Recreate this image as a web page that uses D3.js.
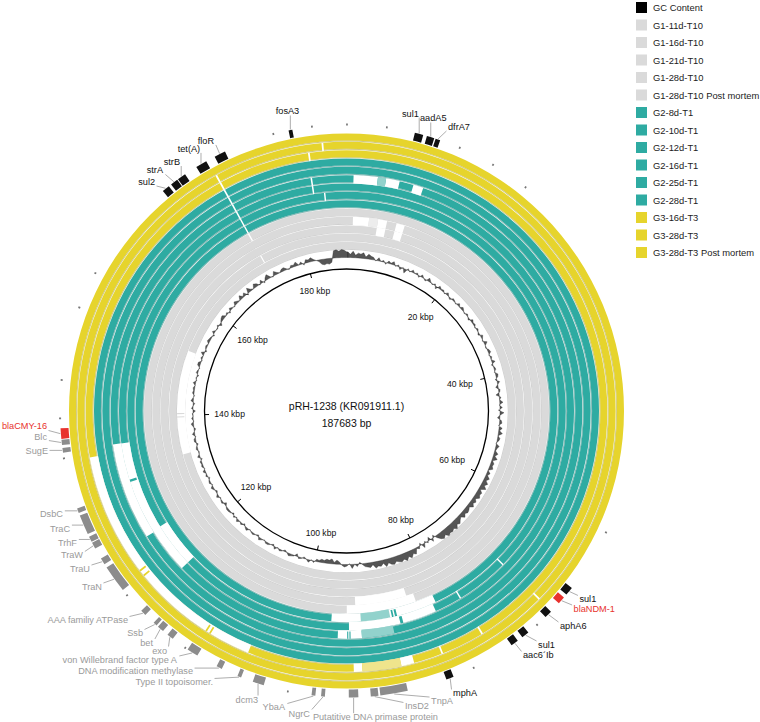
<!DOCTYPE html>
<html><head><meta charset="utf-8">
<script src="https://cdn.jsdelivr.net/npm/d3@7"></script>
<style>
body{margin:0;background:#fff;}
svg{display:block;font-family:"Liberation Sans",Arial,sans-serif;}
</style></head><body>
<svg id="c" width="760" height="722"></svg>
<script>
// ---------------- DATA ----------------
const GENOME_LENGTH_KBP = 187.683;
const plasmidName = "pRH-1238 (KR091911.1)";
const plasmidSize = "187683 bp";
const legendNames = ["GC Content","G1-11d-T10","G1-16d-T10","G1-21d-T10","G1-28d-T10","G1-28d-T10 Post mortem",
  "G2-8d-T1","G2-10d-T1","G2-12d-T1","G2-16d-T1","G2-25d-T1","G2-28d-T1","G3-16d-T3","G3-28d-T3","G3-28d-T3 Post mortem"];
const legendGroup = ["gc","g1","g1","g1","g1","g1","g2","g2","g2","g2","g2","g2","g3","g3","g3"];
const tickKbp = [20,40,60,80,100,120,140,160,180];

// gaps per sample ring: [startKbp, endKbp, kind] kind: w = no hit, l = partial hit, c = hit fragment inside a gap
const gapsG1_11d = [[133.0,151.6,'w'],[139.6,139.8,'c'],[140.2,140.4,'c']];
const gapsG1_16d = [[172.5,172.7,'w']];
const gapsG1_21d = [[4.9,6.3,'w'],[7.8,9.1,'w']];
const gapsG1_28d = [[1.0,3.5,'w'],[3.5,4.9,'l'],[4.9,6.3,'w'],[7.8,9.1,'w'],[84.5,92.5,'w']];
const gapsG1_28dPM = [[172.5,172.7,'w'],[83.4,93.8,'w']];
const gapsG2_8d = [[172.5,172.7,'w'],[80.8,96.0,'w'],[87.6,91.8,'l'],[86.6,86.9,'c'],[87.1,87.35,'c']];
const gapsG2_10d = [[172.5,172.7,'w'],[184.6,184.8,'w'],[77.4,77.6,'w'],[70.0,70.2,'w'],[81.3,93.5,'w'],[86.0,86.4,'c'],[118.0,124.2,'w']];
const gapsG2_12d = [[172.5,172.7,'w'],[183.1,183.3,'w'],[118.0,136.5,'w'],[131.3,131.6,'c'],[87.5,91.8,'l'],[91.8,95.0,'w'],[93.3,93.45,'c'],[93.6,93.75,'c']];
const gapsG2_16d = [[0.9,4.0,'w'],[4.0,5.05,'l'],[5.05,6.8,'w'],[8.6,9.9,'w'],[172.5,172.7,'w'],[183.1,183.3,'w'],[124.0,136.5,'w']];
const gapsG2_25d = [[172.5,172.7,'w']];
const gapsG2_28d = [[172.5,172.7,'w']];
const gapsG3_16d = [[183.25,183.45,'w'],[172.5,172.7,'w'],[105.4,135.4,'w'],[110.2,110.4,'c'],[110.7,110.9,'c'],[120.3,120.5,'c'],[121.0,121.2,'c'],
  [92.0,93.0,'w'],[87.5,92.0,'l'],[86.0,87.5,'w'],[77.4,77.6,'w'],[82.5,82.7,'w']];
const gapsG3_28d = [[184.9,185.1,'w'],[172.5,172.7,'w'],[69.9,70.1,'w']];
const gapsG3_28dPM = [];

// GC content deviation, one window per 0.5 kbp
const gcDeviation = [
  7,4,8,3,6,5,7,2,6,4, 3,-1,4,0,2,-2,3,1,4,-1, 2,-3,1,-5,2,-1,3,0,2,-2, 3,0,-2,4,1,-1,2,-3,3,1,
  2,-1,3,0,-2,2,1,-1,3,0, 3,1,-1,2,0,-2,3,1,2,-1, 2,0,-2,3,1,-1,4,0,-1,2, 3,-1,2,0,4,-2,1,2,-1,3,
  2,-2,3,0,-3,2,1,-4,2,0, 4,-1,3,-2,5,0,-3,2,3,-1, 4,1,5,0,3,2,-1,4,2,1, 5,2,6,1,4,3,5,0,4,2,
  6,3,7,4,8,2,6,5,7,3, 6,4,7,3,5,6,4,7,3,5, 8,6,10,7,9,8,10,6,9,7, 3,-3,4,-4,2,-2,5,-3,3,1,
  7,5,9,6,10,7,9,8,6,9, 8,5,9,4,7,6,8,3,6,5, 4,1,-2,3,0,5,-1,2,3,1, -3,-5,-2,-6,-4,-5,-3,-4,-2,-3,
  2,-1,3,0,-2,1,2,-3,1,2, 3,0,-2,1,2,-1,3,-2,0,2, 2,-1,1,3,-2,0,2,1,-1,3, 1,-2,2,0,3,-1,2,-2,1,2,
  2,0,-3,2,1,-1,3,0,-2,1, 3,-1,2,1,-2,2,0,3,-1,2, 1,2,-2,3,0,-1,2,1,-2,2, 2,-1,3,0,-2,1,3,-1,2,0,
  1,-3,2,0,-2,3,1,-1,2,1, 2,0,3,-1,1,-2,2,1,-1,3, 3,-1,2,0,4,-2,1,2,0,3, 2,1,-2,3,0,-1,2,-3,1,3,
  4,0,2,-2,3,1,-1,4,2,0, 5,1,4,-2,6,2,0,5,3,-1, 4,-2,3,6,1,-1,5,2,0,3, 4,1,-1,3,2,5,0,3,-2,4,
  3,5,2,0,-2,-6,-7,-6,-7,-5, 9,10,8,10,9,7];

// annotated genes
const geneNames = ["fosA3","floR","tet(A)","strB","strA","sul2","sul1","aadA5","dfrA7",
  "sul1","blaNDM-1","aphA6","sul1","aac6´Ib","mphA",
  "blaCMY-16","Blc","SugE","DsbC","TraC","TrhF","TraW","TraU","TraN","AAA familiy ATPase","Ssb","bet","exo",
  "von Willebrand factor type A","DNA modification methylase","Type II topoisomer.","dcm3","YbaA","NgrC",
  "Putatitive DNA primase protein","InsD2","TnpA"];
const geneStart = [181.6,173.4,171.2,168.9,168.0,166.9,7.2,8.5,9.45, 66.8,68.1,70.1,73.3,74.7,82.4,
  137.85,137.2,136.4,129.9,127.5,126.6,125.8,123.9,120.6,117.1,115.5,114.6,113.3,110.2,107.3,105.1,102.6,97.1,96.1,92.6,90.5,87.4];
const geneEnd = [182.0,174.6,172.4,169.8,168.8,167.7,8.1,9.3,9.95, 67.7,68.9,70.9,74.1,75.5,83.2,
  138.95,137.75,136.9,130.4,129.6,127.2,126.5,124.6,123.5,117.7,115.9,115.3,114.0,111.4,107.9,105.5,103.8,97.5,96.5,93.6,91.3,90.3];
const geneType = ["res","res","res","res","res","res","res","res","res","res","red","res","res","res","res",
  "red","other","other","other","other","other","other","other","other","other","other","other","other",
  "other","other","other","other","other","other","other","other","other"];
const minorFeatureKbp = [179.97,184.07,0.05,4.22,12.14,16.04,20.16,60.0,72.1,80.1,140.0,135.8,119.9,111.7,100.0,155.76,151.8,144.0];

// label layout: polar anchor (kbp, radius) and text anchor
const labelKbp = [181.87,174.06,172.47,170.08,168.22,166.88,5.51,7.35,10.25, 67.24,68.34,70.49,73.35,75.16,83.07,
  139.22,138.22,136.83,130.40,128.71,127.16,125.78,124.27,122.13,117.93,115.97,114.61,113.05,111.70,109.77,107.49,102.73,99.95,97.43,97.11,88.01,85.37];
const labelR = [305.3,300.8,300.2,299.5,302.5,298.5,302.6,301.6,301.6, 299.6,301.3,303,302.4,301.5,301.9,
  299.9,300.6,301.1,301.5,300.6,300.1,300.5,301.3,301.3,302.7,301.5,302.1,299.3,301.2,301.9,302.5,301.8,302.8,304.7,308.0,301.2,302.1];
const labelAnchor = ["middle","end","end","end","end","end","start","start","start","start","start","start","start","start","start",
  "end","end","end","end","end","end","end","end","end","end","end","end","end","end","end","end","end","end","end","start","start","start"];

// ---------------- DRAW ----------------
const svg = d3.select("#c");
const cx = 346.5, cy = 411;
const g = svg.append("g").attr("transform", `translate(${cx},${cy})`);
const ang = d3.scaleLinear().domain([0, GENOME_LENGTH_KBP]).range([0, 2*Math.PI]);
const colors = {g1:"#dadada", g2:"#2eaba2", g3:"#e6d42c", gc:"#000"};
const light = {g1:"#ededed", g2:"#92d2cc", g3:"#efe48c"};
const edge = {g1:"#a9a9a9", g2:"#1c7c75", g3:"#a99b1c"};
const R_OUT = 277.5, PITCH = 8.33, BAND = 7;
const sampleGaps = [gapsG1_11d,gapsG1_16d,gapsG1_21d,gapsG1_28d,gapsG1_28dPM,gapsG2_8d,gapsG2_10d,gapsG2_12d,gapsG2_16d,gapsG2_25d,gapsG2_28d,gapsG3_16d,gapsG3_28d,gapsG3_28dPM];
const arc = d3.arc();
sampleGaps.forEach((gaps, k) => {
  const grp = legendGroup[k+1];
  const rOut = R_OUT - PITCH*(13-k), rIn = rOut - BAND;
  g.append("path").attr("d", arc({innerRadius:rIn, outerRadius:rOut, startAngle:0, endAngle:2*Math.PI})).attr("fill", colors[grp]);
  g.append("path").attr("d", arc({innerRadius:rIn-0.9, outerRadius:rIn, startAngle:0, endAngle:2*Math.PI})).attr("fill", edge[grp]).attr("opacity",0.55);
  const order = {w:0,l:1,c:2};
  gaps.slice().sort((a,b)=>order[a[2]]-order[b[2]]).forEach(([s,e,kind]) => {
    const fill = kind==='w' ? "#fff" : kind==='l' ? light[grp] : colors[grp];
    const ri = kind==='c' ? rIn : rIn-1.2;
    g.append("path").attr("d", arc({innerRadius:ri, outerRadius:rOut+0.2, startAngle:ang(s), endAngle:ang(e)})).attr("fill", fill);
  });
});

// GC content
const gcR = d3.scaleLinear().domain([-10,10]).range([145.5,161.5]);
const gcData = gcDeviation.map((v,i)=>({pos:i*0.5+0.25, v}));
gcData.push({pos: GENOME_LENGTH_KBP+0.25, v: gcDeviation[0]});
const gcArea = d3.areaRadial().angle(d=>ang(d.pos)).innerRadius(gcR(0)).outerRadius(d=>gcR(d.v)).curve(d3.curveLinear);
g.append("path").attr("d", gcArea(gcData)).attr("fill","#555").attr("stroke","#222").attr("stroke-width",0.35);

// backbone
g.append("circle").attr("r",142).attr("fill","none").attr("stroke","#000").attr("stroke-width",1.3);
const polar = (kbp, r) => [r*Math.sin(ang(kbp)), -r*Math.cos(ang(kbp))];
tickKbp.forEach(t => {
  const [x1,y1] = polar(t,142), [x2,y2] = polar(t,137.5);
  g.append("line").attr("x1",x1).attr("y1",y1).attr("x2",x2).attr("y2",y2).attr("stroke","#000").attr("stroke-width",1);
  const a = ang(t), ux = Math.sin(a), uy = -Math.cos(a);
  const halfExt = Math.abs(ux)*15 + Math.abs(uy)*4;
  const rc = 132 - halfExt;
  g.append("text").attr("x", rc*ux).attr("y", rc*uy).attr("text-anchor","middle").attr("dominant-baseline","central")
    .attr("font-size",8.6).attr("fill","#111").text(t+" kbp");
});
g.append("text").attr("x",0).attr("y",-1).attr("text-anchor","middle").attr("font-size",10.5).attr("fill","#111").text(plasmidName);
g.append("text").attr("x",0).attr("y",16).attr("text-anchor","middle").attr("font-size",10.5).attr("fill","#111").text(plasmidSize);

// minor features
minorFeatureKbp.forEach(p => {
  g.append("path").attr("d", arc({innerRadius:285.5, outerRadius:287.5, startAngle:ang(p)-0.003, endAngle:ang(p)+0.003})).attr("fill","#777");
});

// genes + labels
const geneFill = {res:"#111", red:"#e8322d", other:"#8c8c8c"};
const labelFill = {res:"#111", red:"#e8322d", other:"#9a9a9a"};
geneNames.forEach((name,i) => {
  g.append("path").attr("d", arc({innerRadius:278.5, outerRadius:286.5, startAngle:ang(geneStart[i]), endAngle:ang(geneEnd[i])}))
    .attr("fill", geneFill[geneType[i]]);
});
geneNames.forEach((name,i) => {
  const [lx,ly] = polar(labelKbp[i], labelR[i]);
  const t = g.append("text").attr("x",lx).attr("y",ly).attr("text-anchor",labelAnchor[i]).attr("dominant-baseline","central")
    .attr("font-size",9.2).attr("fill",labelFill[geneType[i]]).text(name);
  const bb = t.node().getBBox();
  const mid = (geneStart[i]+geneEnd[i])/2;
  const [gx,gy] = polar(mid, 287);
  const px = Math.max(bb.x-1.5, Math.min(bb.x+bb.width+1.5, gx));
  const py = Math.max(bb.y+1, Math.min(bb.y+bb.height-1, gy));
  g.insert("line","text").attr("x1",gx).attr("y1",gy).attr("x2",px).attr("y2",py).attr("stroke","#8a8a8a").attr("stroke-width",0.7);
});

// legend
const lg = svg.append("g");
legendNames.forEach((n,i) => {
  const y = 7.5 + 17.5*i;
  lg.append("rect").attr("x",636).attr("y",y-5.5).attr("width",11).attr("height",11).attr("fill", legendGroup[i]==="gc" ? "#000" : colors[legendGroup[i]]);
  lg.append("text").attr("x",653).attr("y",y).attr("dominant-baseline","central").attr("font-size",9.4).attr("fill","#222").text(n);
});
</script></body></html>
